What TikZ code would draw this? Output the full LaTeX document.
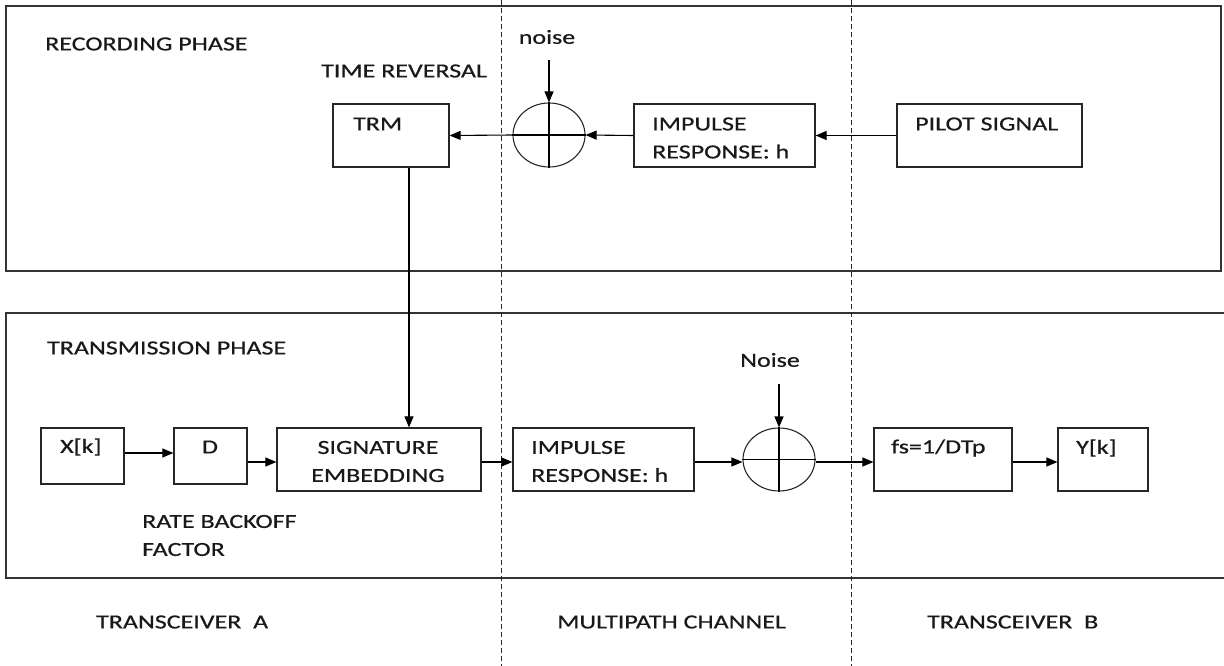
\documentclass[tikz,border=0pt]{standalone}
\usepackage{fontspec}
\setmainfont{Carlito}[FakeStretch=1.3,FakeBold=0.6]
\usetikzlibrary{arrows.meta,shapes.geometric}
\begin{document}
\begin{tikzpicture}[x=1pt,y=-1pt,
  frame/.style={draw=black!80,line width=1.3pt},
  blk/.style={draw=black!85,line width=1.2pt},
  txt/.style={inner sep=0pt,font=\fontsize{20}{28}\selectfont,text=black!90},
  summer/.style={draw=black!85,line width=1.1pt,ellipse,inner sep=0pt},
  arr/.style={line width=1.1pt,-{Triangle[length=11pt,width=9pt]}},
  ln/.style={line width=1.1pt},
  sep/.style={line width=1pt,dash pattern=on 5pt off 3pt,black!85}]
\useasboundingbox (0,0) rectangle (1224,666);
% frames
\draw[frame] (6,6) rectangle (1221,271);
\draw[frame] (6,313) rectangle (1226,578);
% separators
\draw[sep] (501,0) -- (501,666);
\draw[sep] (851,0) -- (851,666);
% recording phase
\node[txt,anchor=west] (rec) at (45,44) {RECORDING PHASE};
\node[txt,anchor=west] (trev) at (321,71) {TIME REVERSAL};
\node[txt] (noise1) at (547,37) {noise};
\node[blk,minimum width=116pt,minimum height=63pt] (trm) at (391,135.5) {};
\node[txt,anchor=west] (trmt) at (353,124) {TRM};
\node[summer,minimum width=72pt,minimum height=64pt] (s1) at (549,135) {};
\draw[ln] (s1.north) -- (s1.south) (s1.west) -- (s1.east);
\node[blk,minimum width=181pt,minimum height=63pt] (ir1) at (724.5,135.5) {};
\node[txt,anchor=west,align=left] (ir1t) at (652,138) {IMPULSE\\RESPONSE: h};
\node[blk,minimum width=185pt,minimum height=63pt] (pil) at (989.5,135.5) {};
\node[txt,anchor=west] (pilt) at (915,124) {PILOT SIGNAL};
\coordinate (n1) at (549,60);
\draw[arr] (n1) -- (s1.north);
\draw[arr] (pil.west) -- (ir1.east);
\draw[arr] (ir1.west) -- (s1.east);
\draw[arr] (s1.west) -- (trm.east);
% transmission phase
\node[txt,anchor=west] (trans) at (47,348) {TRANSMISSION PHASE};
\node[blk,minimum width=83pt,minimum height=56pt] (xk) at (82.5,456) {};
\node[txt,anchor=west] (xkt) at (60,447) {X[k]};
\node[blk,minimum width=73pt,minimum height=56pt] (d) at (210.5,456) {};
\node[txt] (dt) at (210,447) {D};
\node[blk,minimum width=204pt,minimum height=63pt] (se) at (379,459.5) {};
\node[txt,align=center] (set) at (378,461.5) {SIGNATURE\\EMBEDDING};
\node[txt,anchor=west,align=left] (rbf) at (142,535.5) {RATE BACKOFF\\FACTOR};
\node[blk,minimum width=181pt,minimum height=63pt] (ir2) at (603.5,459.5) {};
\node[txt,anchor=west,align=left] (ir2t) at (531,461.5) {IMPULSE\\RESPONSE: h};
\node[txt] (noise2) at (770,360) {Noise};
\node[summer,minimum width=72pt,minimum height=63pt] (s2) at (779,459.5) {};
\draw[ln] (s2.north) -- (s2.south) (s2.west) -- (s2.east);
\node[blk,minimum width=138pt,minimum height=63pt] (fs) at (943,459.5) {};
\node[txt,anchor=west] (fst) at (891,448) {fs=1/DTp};
\node[blk,minimum width=90pt,minimum height=63pt] (yk) at (1103,459.5) {};
\node[txt,anchor=west] (ykt) at (1076,448) {Y[k]};
\coordinate (n2) at (779,384);
\draw[arr] (n2) -- (s2.north);
\coordinate (tl) at (409,0);
\draw[arr] (trm.south -| tl) -- (se.north -| tl);
\draw[arr] (xk.east |- 0,453) -- (d.west |- 0,453);
\draw[arr] (d.east |- 0,462) -- (se.west |- 0,462);
\draw[arr] (se.east |- 0,462) -- (ir2.west |- 0,462);
\draw[arr] (ir2.east |- 0,462) -- (s2.west |- 0,462);
\draw[arr] (s2.east |- 0,462) -- (fs.west |- 0,462);
\draw[arr] (fs.east |- 0,462) -- (yk.west |- 0,462);
% bottom labels
\node[txt,anchor=west] (ta) at (96,622) {TRANSCEIVER\ \ A};
\node[txt,anchor=west] (mc) at (557,622) {MULTIPATH CHANNEL};
\node[txt,anchor=west] (tb) at (927,622) {TRANSCEIVER\ \ B};
\end{tikzpicture}
\end{document}
